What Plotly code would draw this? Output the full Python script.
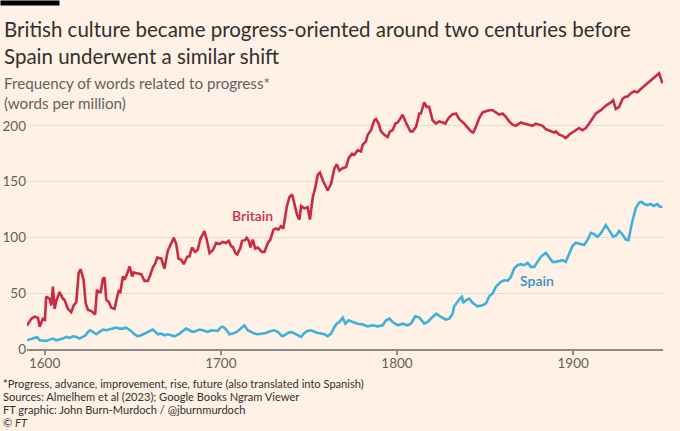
import plotly.graph_objects as go

# Britain, words per million
britain_years = [1590.0, 1592.4, 1594.3, 1596.2, 1597.2, 1599.0, 1600.2, 1600.9, 1602.8, 1603.8,
                 1604.7, 1605.7, 1606.6, 1608.5, 1610.4, 1611.3, 1613.2, 1615.1, 1616.5, 1618.0,
                 1619.3, 1620.4, 1622.1, 1623.3, 1624.6, 1626.5, 1628.7, 1629.7, 1630.8, 1631.8,
                 1633.1, 1634.0, 1635.0, 1636.5, 1637.8, 1639.7, 1641.2, 1642.2, 1642.9, 1644.4,
                 1645.4, 1646.5, 1648.2, 1649.7, 1650.5, 1652.9, 1654.8, 1656.7, 1658.6, 1659.9,
                 1661.4, 1662.8, 1663.9, 1666.2, 1668.0, 1669.9, 1671.8, 1673.3, 1674.7, 1676.0,
                 1677.5, 1679.0, 1680.9, 1682.2, 1683.7, 1685.4, 1686.9, 1688.5, 1690.7, 1692.1,
                 1693.6, 1695.5, 1697.4, 1699.2, 1701.1, 1703.0, 1704.5, 1705.9, 1706.8, 1708.3,
                 1709.3, 1711.0, 1712.1, 1713.8, 1714.7, 1715.9, 1716.8, 1718.2, 1719.5, 1721.0,
                 1723.3, 1724.8, 1726.7, 1728.0, 1729.9, 1731.4, 1732.7, 1734.2, 1735.5, 1737.4,
                 1738.9, 1740.5, 1741.8, 1743.3, 1744.6, 1745.6, 1747.4, 1749.3, 1750.6, 1752.2,
                 1753.7, 1755.0, 1756.3, 1758.2, 1760.7, 1762.6, 1764.5, 1765.8, 1767.3, 1769.2,
                 1771.1, 1772.6, 1774.5, 1775.8, 1777.7, 1779.6, 1780.5, 1782.4, 1783.4, 1785.3,
                 1787.1, 1788.1, 1789.6, 1790.9, 1792.8, 1794.7, 1796.0, 1797.5, 1799.1, 1800.4,
                 1801.3, 1803.2, 1805.1, 1807.6, 1808.9, 1810.8, 1812.7, 1813.6, 1815.5, 1816.8,
                 1818.3, 1820.2, 1822.1, 1824.0, 1825.9, 1827.4, 1829.3, 1831.2, 1833.5, 1835.4,
                 1838.2, 1840.1, 1842.0, 1843.3, 1844.8, 1846.7, 1848.6, 1850.5, 1852.4, 1854.3,
                 1856.1, 1858.0, 1859.9, 1861.8, 1863.7, 1865.6, 1867.5, 1870.3, 1872.2, 1875.0,
                 1876.9, 1878.8, 1880.7, 1882.6, 1884.5, 1886.4, 1889.2, 1890.2, 1892.1, 1894.0,
                 1895.8, 1897.7, 1899.6, 1901.9, 1903.4, 1905.3, 1907.2, 1909.1, 1911.0, 1912.9,
                 1915.7, 1918.5, 1921.4, 1922.7, 1924.2, 1926.1, 1928.0, 1929.5, 1930.8, 1932.7,
                 1934.6, 1936.5, 1938.4, 1941.2, 1944.0, 1945.9, 1947.8, 1948.8, 1950.7]
britain_values = [21, 27, 29, 28, 20, 27, 26, 47, 45, 39,
                  56, 36, 43, 51, 45, 44, 36, 33, 39, 42,
                  68, 71.5, 62, 41, 35, 34, 31, 53, 51, 51,
                  63, 64, 44, 42, 37, 36, 47, 53, 50, 65,
                  62, 66, 74, 65, 68.5, 67.6, 67, 61, 61, 66,
                  73, 76.6, 82, 81, 72, 88, 94.6, 99.6, 94, 81,
                  80, 76, 82.6, 83, 91, 87, 89, 99, 105.6, 97.5,
                  86, 88.6, 95, 94, 96, 95, 97, 92, 91.6, 86,
                  84.7, 90, 97, 97.5, 99.6, 97, 91, 98, 90, 91,
                  87, 87, 95, 97.5, 107, 108, 107, 110, 108, 127,
                  136, 138.5, 130, 120, 116, 128, 126, 127, 116, 136,
                  145, 156, 158, 150, 142, 148, 162, 165.5, 160, 162,
                  163, 171, 175, 174, 178, 177, 183, 186, 192, 196,
                  205, 206, 202, 195, 192, 190, 195, 196, 202, 203,
                  205, 210, 203, 195, 195, 199, 211, 211, 221, 217,
                  217, 205, 202, 204, 203, 202, 207, 210, 211, 206,
                  202, 198, 195, 194, 199, 207, 212, 213, 214, 214,
                  212, 210, 211, 208, 204, 201, 200, 203, 202, 201,
                  200, 202, 201, 200, 197, 196, 194, 195, 192, 191,
                  189, 192, 194, 197, 198, 196, 198, 202, 206, 211,
                  214, 218, 221, 223, 215, 217, 224, 226, 226, 229,
                  231, 230, 233, 237, 241, 243, 246, 247, 238]

# Spain, words per million
spain_years = [1590.0, 1592.4, 1594.3, 1595.7, 1597.2, 1599.1, 1600.9, 1602.8, 1604.7, 1606.6,
               1608.5, 1610.4, 1612.3, 1614.2, 1616.1, 1618.0, 1619.8, 1621.7, 1623.3, 1624.6,
               1625.9, 1627.4, 1629.3, 1631.2, 1633.1, 1635.0, 1636.9, 1638.8, 1640.6, 1642.5,
               1644.4, 1646.3, 1649.1, 1651.0, 1652.9, 1654.8, 1657.7, 1659.5, 1661.4, 1662.9,
               1664.3, 1666.2, 1668.1, 1669.9, 1671.8, 1673.7, 1676.6, 1678.4, 1680.3, 1682.2,
               1684.1, 1686.0, 1687.9, 1689.8, 1692.6, 1694.5, 1696.4, 1698.3, 1700.2, 1701.5,
               1703.0, 1704.9, 1706.8, 1709.1, 1710.6, 1712.1, 1713.4, 1715.3, 1717.2, 1719.1,
               1721.0, 1723.8, 1725.7, 1728.5, 1730.4, 1732.3, 1734.8, 1736.1, 1738.0, 1739.9,
               1741.8, 1743.7, 1745.6, 1747.4, 1749.3, 1751.2, 1753.1, 1755.0, 1756.9, 1758.8,
               1760.7, 1762.6, 1764.5, 1765.8, 1767.3, 1769.2, 1770.7, 1772.6, 1774.9, 1777.7,
               1780.5, 1783.4, 1786.2, 1789.0, 1791.9, 1793.8, 1795.7, 1797.5, 1800.4, 1803.2,
               1806.1, 1807.9, 1810.4, 1812.7, 1815.5, 1817.4, 1820.2, 1822.5, 1824.9, 1827.8,
               1829.7, 1831.6, 1832.5, 1834.4, 1835.7, 1836.9, 1837.6, 1839.1, 1841.0, 1842.9,
               1845.7, 1848.6, 1850.5, 1852.4, 1854.3, 1856.1, 1859.0, 1860.9, 1862.8, 1864.7,
               1866.5, 1868.4, 1870.3, 1872.2, 1874.1, 1876.0, 1877.9, 1879.8, 1881.7, 1884.5,
               1886.4, 1888.3, 1890.2, 1892.1, 1894.0, 1895.8, 1897.7, 1899.6, 1901.5, 1903.4,
               1906.2, 1908.1, 1910.0, 1911.9, 1913.8, 1915.7, 1918.5, 1920.4, 1922.7, 1924.6,
               1926.1, 1927.6, 1929.9, 1931.4, 1933.3, 1935.5, 1937.4, 1938.8, 1940.3, 1942.2,
               1944.0, 1945.9, 1947.8, 1949.2, 1950.7]
spain_values = [7.8, 9.3, 10, 10.8, 7.8, 7.2, 7.2, 8.4, 9.3, 7.8,
                8.4, 9.3, 10.8, 10, 11.4, 10.8, 9.3, 10.8, 12.3, 15.3,
                16.8, 15.3, 13.2, 15.3, 17.4, 16.8, 17.4, 18.3, 19.2, 18.3,
                18.3, 19.2, 16.2, 13.2, 11.4, 12.3, 14.4, 16.2, 17.4, 15.3,
                13.2, 13.8, 12.3, 13.2, 12.3, 11.4, 13.8, 16.2, 18.3, 16.8,
                15.3, 16.2, 17.4, 16.8, 15.3, 16.8, 16.2, 16.2, 19.7, 19.7,
                17.4, 13.2, 13.8, 15.3, 17.4, 19.7, 21.2, 16.8, 15.3, 13.8,
                13.2, 13.8, 14.4, 16.2, 16.8, 15.3, 11.4, 12.3, 14.4, 15.3,
                13.8, 12.3, 10.8, 14.4, 16.2, 16.8, 15.3, 14.4, 13.8, 13.2,
                11.4, 13.8, 19.7, 22.7, 24.2, 28, 22.7, 25.7, 24.2, 22.7,
                22.1, 20.3, 21.2, 20.3, 21.2, 25.7, 27.2, 24.2, 21.2, 22.7,
                21.2, 22.7, 29.3, 28.1, 22.7, 24.2, 28.7, 31.7, 28.7, 26.3,
                27.2, 31.7, 38.3, 43.1, 45.2, 46.7, 41.3, 43.7, 45.2, 41.3,
                38.3, 39.2, 40.7, 47.3, 49.7, 55.7, 60.1, 61.6, 61.0, 64.6,
                72.1, 75.1, 76.0, 75.1, 77.2, 73.6, 73.6, 78.1, 82.6, 86.2,
                82.0, 78.1, 78.1, 79.0, 79.6, 78.1, 85.6, 92.2, 95.2, 94.6,
                93.1, 97.5, 104.1, 102.9, 100.5, 103.5, 111.0, 106.5, 100.5, 102.0,
                105.9, 103.5, 98.1, 97.5, 112.5, 126.0, 131.1, 132.0, 129.9, 129.0,
                129.9, 128.1, 129.9, 127.5, 127.5]

x_ticks = [1600, 1700, 1800, 1900]
y_ticks = [0, 50, 100, 150, 200]

title = "British culture became progress-oriented around two centuries before<br>Spain underwent a similar shift"
subtitle = "Frequency of words related to progress*<br>(words per million)"
footer = ["*Progress, advance, improvement, rise, future (also translated into Spanish)",
          "Sources: Almelhem et al (2023); Google Books Ngram Viewer",
          "FT graphic: John Burn-Murdoch / @jburnmurdoch",
          "© <i>FT</i>"]
footer_y = [-0.122, -0.1685, -0.2186, -0.263]

RED = "#cc2a40"
BLUE = "#3db1dc"
BG = "#fff1e5"
FONT = "Lato"

fig = go.Figure()
fig.add_trace(go.Scatter(x=britain_years, y=britain_values, mode="lines",
                         line=dict(color=RED, width=2.6), showlegend=False, hoverinfo="skip"))
fig.add_trace(go.Scatter(x=spain_years, y=spain_values, mode="lines",
                         line=dict(color=BLUE, width=2.6), showlegend=False, hoverinfo="skip"))

fig.add_annotation(x=1718, y=120, text="Britain", showarrow=False,
                   font=dict(family=FONT, size=14, color="#c8334a", weight=600))
fig.add_annotation(x=1879.6, y=61, text="Spain", showarrow=False,
                   font=dict(family=FONT, size=14, color="#348fc8", weight=600))

# black tab at the very top left (FT house style)
fig.add_annotation(xref="paper", yref="paper", x=-0.0425, y=1.2509, xanchor="left", yanchor="top",
                   text="&nbsp;", width=58, height=4, bgcolor="black", borderpad=0,
                   showarrow=False, font=dict(size=2, color="black"))

fig.add_annotation(xref="paper", yref="paper", x=-0.0393, y=1.1003, xanchor="left", yanchor="middle",
                   text=title, showarrow=False, align="left",
                   font=dict(family=FONT, size=20.5, color="#33302e"))
fig.add_annotation(xref="paper", yref="paper", x=-0.0393, y=0.918, xanchor="left", yanchor="middle",
                   text=subtitle, showarrow=False, align="left",
                   font=dict(family=FONT, size=15.2, color="#66605c"))
for line, fy in zip(footer, footer_y):
    fig.add_annotation(xref="paper", yref="paper", x=-0.041, y=fy,
                       xanchor="left", yanchor="middle", text=line, showarrow=False,
                       font=dict(family=FONT, size=11.1, color="#33302e"))

fig.update_layout(
    width=680, height=431,
    margin=dict(l=27, r=17, t=70, b=82),
    paper_bgcolor=BG, plot_bgcolor=BG,
    font=dict(family=FONT, size=13.5, color="#66605c"),
    xaxis=dict(range=[1590, 1951], tickvals=x_ticks, showgrid=False, zeroline=False,
               showline=True, linecolor="#8f8983", linewidth=1.5, automargin=False,
               ticks="outside", ticklen=4, tickcolor="#8f8983", tickwidth=1.5,
               ticklabelstandoff=-3),
    yaxis=dict(range=[0, 250], tickvals=y_ticks, showgrid=True, gridcolor="#e9dcd0",
               gridwidth=1, zeroline=False, ticks="", automargin=False),
)

fig.write_html("out.html", config={"displayModeBar": False},
               post_script="document.body.style.margin='0';")
